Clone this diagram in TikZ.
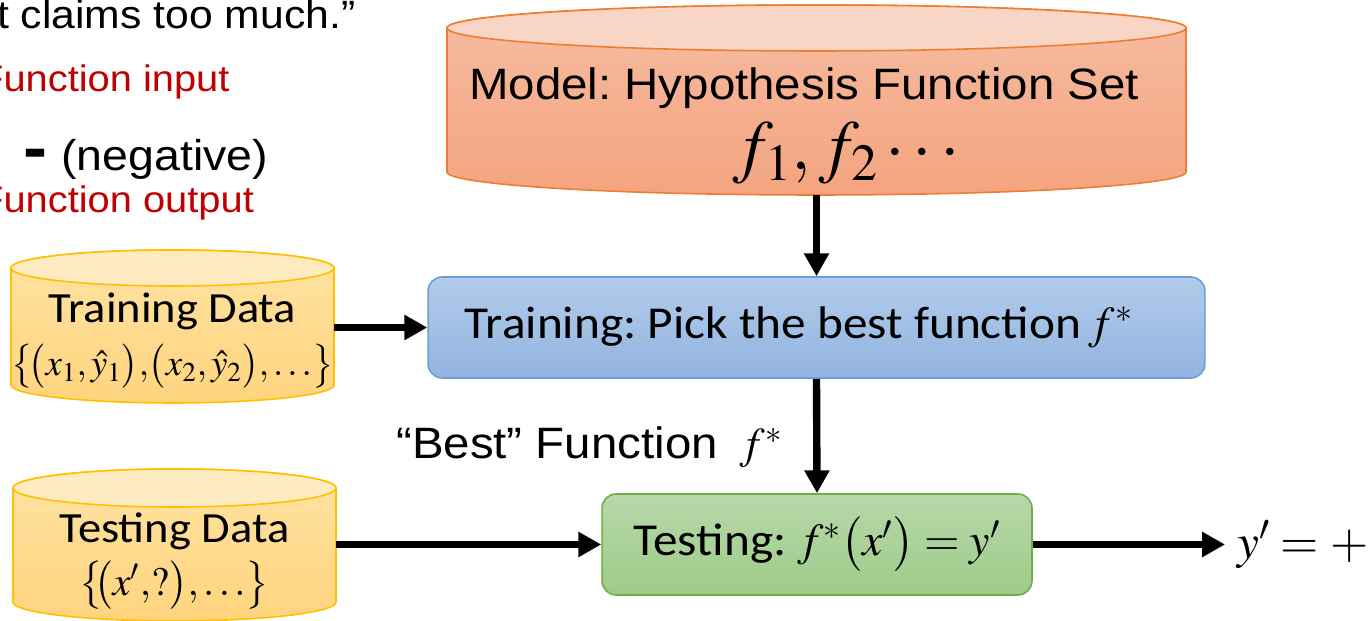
\documentclass[tikz,border=0pt]{standalone}
\usepackage{mathptmx}
\usepackage[no-math]{fontspec}
\setmainfont[FakeStretch=1.08]{Liberation Sans}
\newfontfamily\calibri[FakeStretch=1.08]{Carlito}
\usetikzlibrary{arrows.meta}
\frenchspacing
\definecolor{modeltop}{HTML}{F9D5C6}
\definecolor{modelhi}{HTML}{F6BCA2}
\definecolor{modello}{HTML}{F4A47F}
\definecolor{modelline}{HTML}{ED7D31}
\definecolor{datatop}{HTML}{FFEBC2}
\definecolor{datahi}{HTML}{FFE3A3}
\definecolor{datalo}{HTML}{FFD47E}
\definecolor{dataline}{HTML}{FFC000}
\definecolor{traintop}{HTML}{B2CBEA}
\definecolor{trainlo}{HTML}{92B4E0}
\definecolor{trainline}{HTML}{6C9FD9}
\definecolor{testtop}{HTML}{B7D8A9}
\definecolor{testlo}{HTML}{9ECB89}
\definecolor{testline}{HTML}{70AD47}
\definecolor{darkred}{HTML}{C00000}

\begin{document}
\begin{tikzpicture}[x=0.02cm, y=0.02cm,
  flow/.style={line width=4.2pt, -{Triangle[width=13.6pt,length=13pt]}},
  stepbox/.style={rounded corners=8pt, line width=0.9pt, inner sep=0pt,
    minimum height=2.02cm, font=\calibri\fontsize{26}{30}\selectfont},
  datatext/.style={inner sep=0pt, align=center,
    font=\calibri\fontsize{24.5}{30}\selectfont},
  cylline/.style={line width=0.9pt}]
\useasboundingbox (0,0) rectangle (1368,621);

% cylinders
\path[cylline, draw=modelline, top color=modelhi, bottom color=modello]
  (447,593) -- (447,449) arc[start angle=180, end angle=360, x radius=369.5, y radius=23]
  -- (1186,593) arc[start angle=0, end angle=180, x radius=369.5, y radius=23] -- cycle;
\draw[cylline, modelline, fill=modeltop] (816.5,593) ellipse[x radius=369.5, y radius=23];

\path[cylline, draw=dataline, top color=datahi, bottom color=datalo]
  (11,353) -- (11,236) arc[start angle=180, end angle=360, x radius=161.5, y radius=18]
  -- (334,353) arc[start angle=0, end angle=180, x radius=161.5, y radius=18] -- cycle;
\draw[cylline, dataline, fill=datatop] (172.5,353) ellipse[x radius=161.5, y radius=18];

\path[cylline, draw=dataline, top color=datahi, bottom color=datalo]
  (13,133) -- (13,19) arc[start angle=180, end angle=360, x radius=161.5, y radius=19]
  -- (336,133) arc[start angle=0, end angle=180, x radius=161.5, y radius=19] -- cycle;
\draw[cylline, dataline, fill=datatop] (174.5,133) ellipse[x radius=161.5, y radius=19];

\node[minimum width=14.78cm, minimum height=3.34cm, inner sep=0pt] (model) at (816.5,509.5) {};
\node[anchor=base west, font=\fontsize{25}{30}\selectfont] (modeltitle) at (463,521)
  {Model: Hypothesis Function Set};
\node[anchor=base west, font=\fontsize{40}{44}\selectfont] (modelset) at (727,451)
  {$f_1, f_2\cdots$};

\node[datatext, minimum width=6.46cm] (traindata) at (172.5,280)
  {Training Data\\ {\fontsize{21}{30}\selectfont$\bigl\{\!\bigl(x_1,\hat{y}_1\bigr){,}\bigl(x_2,\hat{y}_2\bigr){,}\ldots\bigr\}$}};
\node[datatext, minimum width=6.46cm] (testdata) at (174.5,59.5)
  {Testing Data\\ {\fontsize{23}{30}\selectfont$\bigl\{\!\!\bigl(x'{,}?\bigr){,}\ldots\bigr\}$}};

\node[stepbox, draw=trainline, top color=traintop, bottom color=trainlo,
  minimum width=15.54cm] (trainbox) at (816.5,293.5)
  {Training: Pick the best function\,$f^{*}$\hspace*{20pt}};
\node[stepbox, draw=testline, top color=testtop, bottom color=testlo,
  minimum width=8.6cm] (testbox) at (817,76.5)
  {Testing: $f^{*}\bigl(x'\bigr)= y'$};

\node[anchor=base west, font=\fontsize{25}{30}\selectfont] (bestlabel) at (390,162)
  {“Best” Function\enspace$f^{*}$};
\node[anchor=west, inner xsep=6.8pt, inner ysep=0pt, font=\fontsize{28}{30}\selectfont]
  (result) at (1225,76.5) {$y' = +$};

% text cut at the left edge
\node[anchor=base west, font=\fontsize{22.5}{26}\selectfont] (claimtext) at (-9,592)
  {t claims too much.”};
\node[anchor=base west, text=darkred, font=\fontsize{21}{24}\selectfont] (inputlabel)
  at (-27,529) {Function input};
\node[anchor=base west, font=\fontsize{24.5}{28}\selectfont] (negative) at (17,450)
  {{\fontsize{38}{38}\selectfont\bfseries -}\hspace{8pt}(negative)};
\node[anchor=base west, text=darkred, font=\fontsize{21}{24}\selectfont] (outputlabel)
  at (-27,408) {Function output};

\draw[flow] (model.south) -- (trainbox.north);
\draw[flow] (traindata.east |- trainbox.west) -- (trainbox.west);
\draw[flow] (trainbox.south) -- (testbox.north);
\draw[flow] (testdata.east |- testbox.west) -- (testbox.west);
\draw[flow] (testbox.east) -- (testbox.east -| result.west);
\end{tikzpicture}
\end{document}
